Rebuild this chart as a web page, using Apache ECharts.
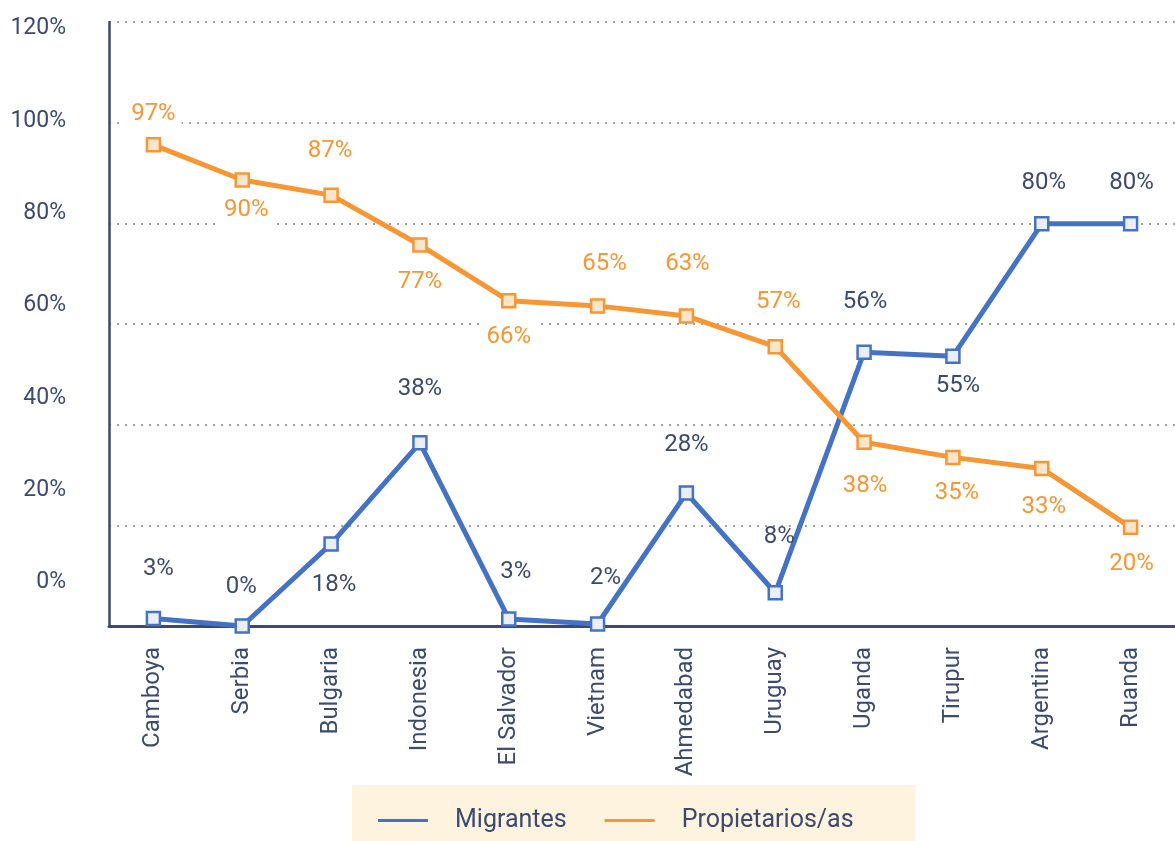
<!DOCTYPE html>
<html>
<head>
<meta charset="utf-8">
<script src="https://cdn.jsdelivr.net/npm/echarts@6/dist/echarts.min.js"></script>
<style>
  html, body { margin: 0; padding: 0; background: #ffffff; }
  #chart { width: 1175px; height: 841px; }
</style>
</head>
<body>
<div id="chart"></div>
<script>
// ---- Data ----
const categories = ['Camboya', 'Serbia', 'Bulgaria', 'Indonesia', 'El Salvador', 'Vietnam',
  'Ahmedabad', 'Uruguay', 'Uganda', 'Tirupur', 'Argentina', 'Ruanda'];
// plotted values (as drawn in the picture)
const migrantes = [1.5, 0, 16.3, 36.4, 1.4, 0.4, 26.4, 6.6, 54.4, 53.6, 79.9, 79.9];
const propietarios = [95.6, 88.6, 85.6, 75.7, 64.6, 63.6, 61.6, 55.5, 36.5, 33.5, 31.3, 19.6];
// printed data labels
const migrantesLabels = ['3%', '0%', '18%', '38%', '3%', '2%', '28%', '8%', '56%', '55%', '80%', '80%'];
const propietariosLabels = ['97%', '90%', '87%', '77%', '66%', '65%', '63%', '57%', '38%', '35%', '33%', '20%'];
// y-axis tick labels
const yTicks = [0, 20, 40, 60, 80, 100, 120];
const seriesNames = ['Migrantes', 'Propietarios/as'];

// ---- Label placement (style, not data) ----
const migLabelOffsets = [[5,-49],[-1,-39],[3,41],[0,-54],[7,-47],[8,-46],[0,-48],[4,-56],[1,-50],[5,30],[2,-41],[1,-41]];
const propLabelOffsets = [[0,-35],[4,25],[-1,-49],[0,33],[0,32],[7,-46],[1,-56],[3,-49],[1,39],[4,31],[2,34],[1,32]];

const BLUE = '#4472C4', ORANGE = '#F79633', NAVY = '#3B4A6E';
const FONT = 'Roboto';
const padTop = 3, padBottom = 12;

const chart = echarts.init(document.getElementById('chart'), null, { renderer: 'canvas' });

const option = {
  animation: false,
  backgroundColor: '#ffffff',
  textStyle: { fontFamily: FONT },
  grid: { left: 109, right: -7, top: 22, bottom: 215, containLabel: false },
  legend: {
    left: 352, top: 785,
    padding: [23, 62, 10, 26],
    backgroundColor: '#FDF3DF',
    icon: 'rect',
    itemWidth: 50, itemHeight: 3,
    itemGap: 38,
    textStyle: { color: NAVY, fontSize: 25, fontFamily: FONT, padding: [0, 0, 0, 22] },
    data: [
      { name: seriesNames[0], itemStyle: { color: BLUE, borderWidth: 0 } },
      { name: seriesNames[1], itemStyle: { color: ORANGE, borderWidth: 0 } }
    ]
  },
  xAxis: {
    type: 'category',
    data: categories,
    boundaryGap: true,
    axisLine: { show: true, lineStyle: { color: NAVY, width: 3 } },
    axisTick: { show: false },
    axisLabel: { rotate: 90, margin: 21, color: NAVY, fontSize: 24, fontFamily: FONT },
    splitLine: { show: false }
  },
  yAxis: [
    {
      type: 'value', min: 0, max: 120, interval: 20,
      axisLine: { show: true, lineStyle: { color: NAVY, width: 2.5 } },
      axisTick: { show: false },
      axisLabel: { show: false },
      splitLine: { show: true, lineStyle: { color: '#A0A0A0', width: 2, type: [2, 6] } }
    },
    {
      type: 'value', min: -9.4, max: 121.4, position: 'left',
      axisLine: { show: false },
      axisTick: { show: false },
      splitLine: { show: false },
      axisLabel: {
        customValues: yTicks,
        formatter: function (v) { return v + '%'; },
        margin: 43, color: NAVY, fontSize: 23, fontFamily: FONT
      }
    }
  ],
  series: [
    {
      name: seriesNames[0],
      type: 'line',
      yAxisIndex: 0,
      data: migrantes.map(function (v, i) {
        return { value: v, label: { offset: migLabelOffsets[i] } };
      }),
      symbol: 'rect', symbolSize: 13,
      lineStyle: { color: BLUE, width: 5 },
      itemStyle: { color: '#E9EEF8', borderColor: BLUE, borderWidth: 2.5 },
      label: {
        show: true, position: 'inside',
        color: NAVY, fontSize: 24, fontFamily: FONT,
        formatter: function (p) { return migrantesLabels[p.dataIndex]; }
      },
      emphasis: { disabled: true },
      z: 3
    },
    {
      name: seriesNames[1],
      type: 'line',
      yAxisIndex: 0,
      data: propietarios.map(function (v, i) {
        const o = propLabelOffsets[i];
        return { value: v, label: { offset: [o[0], o[1] + (padBottom - padTop) / 2] } };
      }),
      symbol: 'rect', symbolSize: 13,
      lineStyle: { color: ORANGE, width: 5 },
      itemStyle: { color: '#FDE5CC', borderColor: ORANGE, borderWidth: 2.5 },
      label: {
        show: true, position: 'inside',
        color: ORANGE, fontSize: 24, fontFamily: FONT,
        lineHeight: 16,
        backgroundColor: '#ffffff',
        padding: [padTop, 6, padBottom, 6],
        formatter: function (p) { return propietariosLabels[p.dataIndex]; }
      },
      emphasis: { disabled: true },
      z: 4
    }
  ]
};

chart.setOption(option);
</script>
</body>
</html>
